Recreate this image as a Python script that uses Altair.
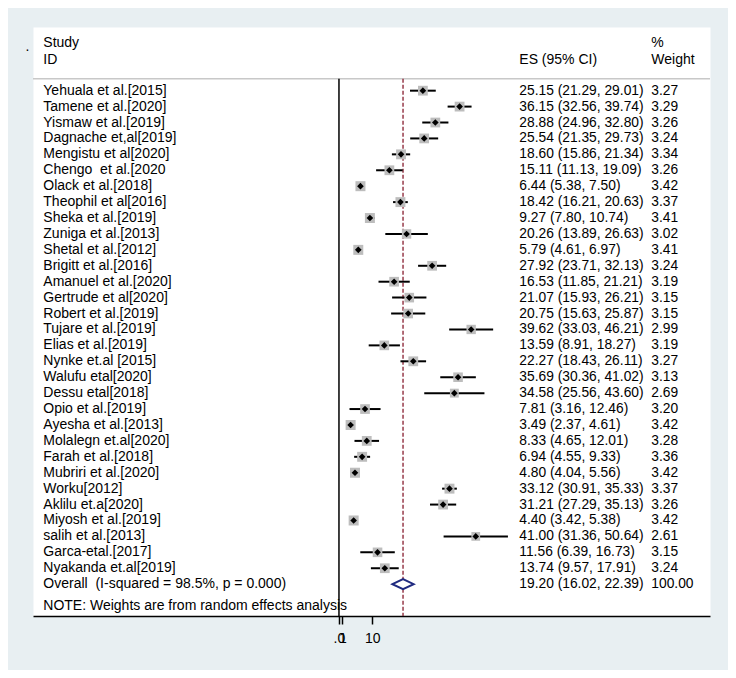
import altair as alt
import pandas as pd

studies = [
    "Yehuala et al.[2015]", "Tamene et al.[2020]", "Yismaw et al.[2019]", "Dagnache et,al[2019]",
    "Mengistu et al[2020]", "Chengo \u00a0et al.[2020", "Olack et al.[2018]", "Theophil et al[2016]",
    "Sheka et al.[2019]", "Zuniga et al.[2013]", "Shetal et al.[2012]", "Brigitt et al.[2016]",
    "Amanuel et al.[2020]", "Gertrude et al[2020]", "Robert et al.[2019]", "Tujare et al.[2019]",
    "Elias et al.[2019]", "Nynke et.al [2015]", "Walufu etal[2020]", "Dessu etal[2018]",
    "Opio et al.[2019]", "Ayesha et al.[2013]", "Molalegn et.al[2020]", "Farah et al.[2018]",
    "Mubriri et al.[2020]", "Worku[2012]", "Aklilu et.a[2020]", "Miyosh et al.[2019]",
    "salih et al.[2013]", "Garca-etal.[2017]", "Nyakanda et.al[2019]",
]
es = [25.15, 36.15, 28.88, 25.54, 18.60, 15.11, 6.44, 18.42, 9.27, 20.26, 5.79, 27.92,
      16.53, 21.07, 20.75, 39.62, 13.59, 22.27, 35.69, 34.58, 7.81, 3.49, 8.33, 6.94,
      4.80, 33.12, 31.21, 4.40, 41.00, 11.56, 13.74]
lower = [21.29, 32.56, 24.96, 21.35, 15.86, 11.13, 5.38, 16.21, 7.80, 13.89, 4.61, 23.71,
         11.85, 15.93, 15.63, 33.03, 8.91, 18.43, 30.36, 25.56, 3.16, 2.37, 4.65, 4.55,
         4.04, 30.91, 27.29, 3.42, 31.36, 6.39, 9.57]
upper = [29.01, 39.74, 32.80, 29.73, 21.34, 19.09, 7.50, 20.63, 10.74, 26.63, 6.97, 32.13,
         21.21, 26.21, 25.87, 46.21, 18.27, 26.11, 41.02, 43.60, 12.46, 4.61, 12.01, 9.33,
         5.56, 35.33, 35.13, 5.38, 50.64, 16.73, 17.91]
weight = [3.27, 3.29, 3.26, 3.24, 3.34, 3.26, 3.42, 3.37, 3.41, 3.02, 3.41, 3.24,
          3.19, 3.15, 3.15, 2.99, 3.19, 3.27, 3.13, 2.69, 3.20, 3.42, 3.28, 3.36,
          3.42, 3.37, 3.26, 3.42, 2.61, 3.15, 3.24]

overall_label = "Overall \u00a0(I-squared = 98.5%, p = 0.000)"
overall_es, overall_lo, overall_hi, overall_w = 19.20, 16.02, 22.39, 100.00
note_text = "NOTE: Weights are from random effects analysis"

tick_values = [0, 1, 10]

FONT = "Liberation Sans"
FS = 14
NAVY = "#1f2a80"
MAROON = "#902d3e"

n = len(studies)
df = pd.DataFrame({
    "study": studies, "es": es, "lo": lower, "hi": upper, "w": weight,
    "row": list(range(1, n + 1)),
})
df["es_txt"] = [f"{e:.2f} ({l:.2f}, {h:.2f})" for e, l, h in zip(es, lower, upper)]
df["w_txt"] = [f"{w:.2f}" for w in weight]

ov_row = n + 1
labels_df = pd.DataFrame({
    "row": list(df["row"]) + [ov_row],
    "study": list(df["study"]) + [overall_label],
    "es_txt": list(df["es_txt"]) + [f"{overall_es:.2f} ({overall_lo:.2f}, {overall_hi:.2f})"],
    "w_txt": list(df["w_txt"]) + [f"{overall_w:.2f}"],
})

header_df = pd.DataFrame({
    "px": [10.3, 10.3, 486.3, 618.3, 618.3, -7.5],
    "row": [-1.98, -0.93, -0.93, -1.98, -0.93, -1.75],
    "txt": ["Study", "ID", "ES (95% CI)", "%", "Weight", "."],
})

dh = 0.32
diamond_df = pd.DataFrame({
    "x": [overall_lo, overall_es, overall_hi],
    "y": [ov_row, ov_row - dh, ov_row],
    "y2": [ov_row, ov_row + dh, ov_row],
})

xscale = alt.Scale(domain=[-91.7, 111.2], nice=False, zero=False)
yscale = alt.Scale(domain=[-3, 34], reverse=True, nice=False, zero=False)

xaxis = alt.Axis(values=tick_values, title=None, grid=False,
                 labelExpr="datum.value == 0 ? '.0' : datum.label",
                 labelOverlap=False, labelFlush=False)

base = alt.Chart(df)

header_line = alt.Chart(pd.DataFrame({"row": [0.25]})).mark_rule(
    color="#c8c8c8", strokeWidth=1.6
).encode(y=alt.Y("row:Q", scale=yscale, axis=None), x=alt.value(0), x2=alt.value(677))

null_line = alt.Chart(pd.DataFrame({"x": [0], "r1": [0.25], "r2": [34]})).mark_rule(
    color="black", strokeWidth=1.5
).encode(x=alt.X("x:Q", scale=xscale, axis=xaxis),
         y=alt.Y("r1:Q", scale=yscale, axis=None), y2="r2:Q")

ov_line = alt.Chart(pd.DataFrame({"x": [overall_es], "r1": [0.25], "r2": [34]})).mark_rule(
    color=MAROON, strokeWidth=1.4, strokeDash=[4, 2]
).encode(x=alt.X("x:Q", scale=xscale), y=alt.Y("r1:Q", scale=yscale), y2="r2:Q")

boxes = base.mark_square(color="#bdbdbd", opacity=1).encode(
    x=alt.X("es:Q", scale=xscale),
    y=alt.Y("row:Q", scale=yscale),
    size=alt.Size("w:Q", scale=alt.Scale(domain=[0, 3.42], range=[0, 100], zero=True), legend=None),
)

ci = base.mark_rule(color="black", strokeWidth=2).encode(
    x=alt.X("lo:Q", scale=xscale), x2="hi:Q", y=alt.Y("row:Q", scale=yscale)
)

pts = base.mark_point(shape="diamond", filled=True, color="black", size=44, opacity=1).encode(
    x=alt.X("es:Q", scale=xscale), y=alt.Y("row:Q", scale=yscale)
)

diamond = alt.Chart(diamond_df).mark_area(
    fill="white", stroke=NAVY, strokeWidth=2, opacity=1, orient="vertical"
).encode(x=alt.X("x:Q", scale=xscale), y=alt.Y("y:Q", scale=yscale), y2="y2:Q")

txt_kw = dict(font=FONT, fontSize=FS, color="black", align="left", baseline="middle")

study_txt = alt.Chart(labels_df).mark_text(**txt_kw).encode(
    x=alt.value(10.3), y=alt.Y("row:Q", scale=yscale), text="study:N")
es_txt = alt.Chart(labels_df).mark_text(**dict(txt_kw, fontSize=13.8)).encode(
    x=alt.value(486.3), y=alt.Y("row:Q", scale=yscale), text="es_txt:N")
w_txt = alt.Chart(labels_df).mark_text(**dict(txt_kw, fontSize=13.8)).encode(
    x=alt.value(618.3), y=alt.Y("row:Q", scale=yscale), text="w_txt:N")

hdr = alt.Chart(header_df).mark_text(**txt_kw).encode(
    x=alt.X("px:Q", scale=None), y=alt.Y("row:Q", scale=yscale), text="txt:N")

note = alt.Chart(pd.DataFrame({"row": [33.4], "txt": [note_text]})).mark_text(**txt_kw).encode(
    x=alt.value(10.3), y=alt.Y("row:Q", scale=yscale), text="txt:N")

chart = alt.layer(
    header_line, null_line, ov_line, ci, boxes, pts, diamond,
    study_txt, es_txt, w_txt, hdr, note
).properties(
    width=677, height=589,
    padding={"left": 25, "top": 19, "right": 18, "bottom": 54},
    autosize=alt.AutoSizeParams(type="none"),
).configure(
    background="#e8eff2"
).configure_view(
    fill="white", stroke="transparent"
).configure_axis(
    domainColor="black", domainWidth=1.5, tickColor="black", tickWidth=1.5, tickSize=8,
    labelFont=FONT, labelFontSize=FS, labelColor="black", labelPadding=7,
)

chart.save("out.html", embed_options={"renderer": "svg", "actions": False})
